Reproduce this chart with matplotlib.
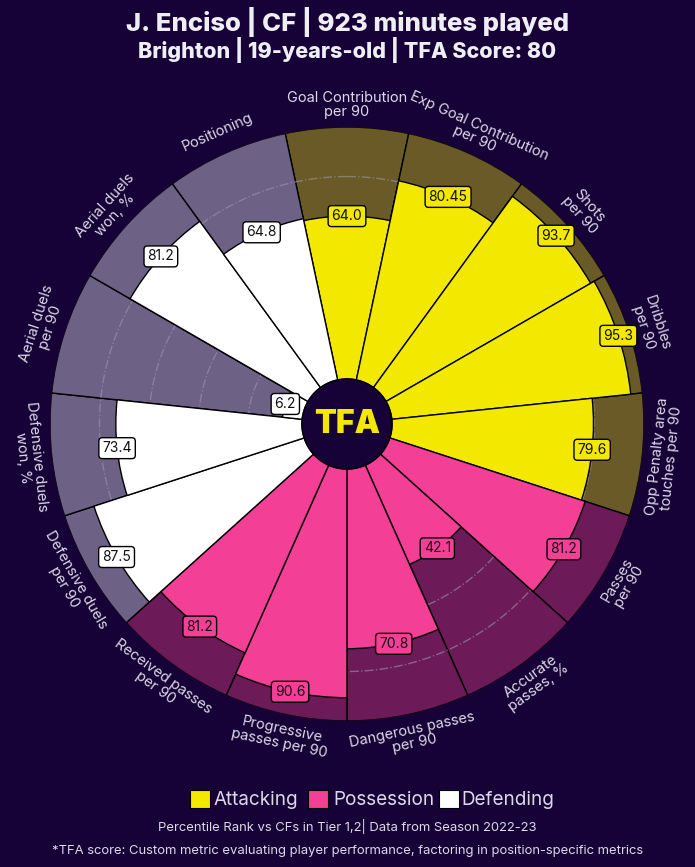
import numpy as np
import matplotlib
matplotlib.use("Agg")
import matplotlib.pyplot as plt
from matplotlib.patches import Rectangle

plt.rcParams['font.family'] = ['Inter', 'DejaVu Sans']

# ---- data ----
params = [
    "Goal Contribution\nper 90", "Exp Goal Contribution\nper 90", "Shots\nper 90",
    "Dribbles\nper 90", "Opp Penalty area\ntouches per 90", "Passes\nper 90",
    "Accurate\npasses, %", "Dangerous passes\nper 90", "Progressive\npasses per 90",
    "Received passes\nper 90", "Defensive duels\nper 90", "Defensive duels\nwon, %",
    "Aerial duels\nper 90", "Aerial duels\nwon, %", "Positioning",
]
values = [64.0, 80.45, 93.7, 95.3, 79.6, 81.2, 42.1, 70.8, 90.6, 81.2,
          87.5, 73.4, 6.2, 81.2, 64.8]
value_labels = ["64.0", "80.45", "93.7", "95.3", "79.6", "81.2", "42.1", "70.8",
                "90.6", "81.2", "87.5", "73.4", "6.2", "81.2", "64.8"]
groups = ["Attacking"] * 5 + ["Possession"] * 5 + ["Defending"] * 5

BG = "#170238"
TEXT = "#dcd8e8"
slice_colors = {"Attacking": "#f3e800", "Possession": "#f43f97", "Defending": "#ffffff"}
bck_colors = {"Attacking": "#6a5a28", "Possession": "#6d1a58", "Defending": "#6d6186"}

INNER = 20      # hole offset in value units
TOP = 100 + INNER

fig = plt.figure(figsize=(6.95, 8.67), dpi=100, facecolor=BG)
ax = fig.add_axes([0.0719, 0.1684, 0.8547, 0.6851], projection="polar")
ax.set_theta_zero_location("N")
ax.set_theta_direction(-1)
ax.axis("off")
ax.set_ylim(0, TOP)

n = len(params)
width = 2 * np.pi / n
theta = np.arange(n) * width

# background slices
ax.bar(theta, [TOP] * n, width=width, bottom=0,
       color=[bck_colors[g] for g in groups], edgecolor="black", linewidth=1, zorder=1)

# dashed circles at 20/40/60/80
tt = np.linspace(0, 2 * np.pi, 400)
for lvl in [20, 40, 60, 80]:
    ax.plot(tt, [lvl + INNER] * len(tt), color="#9a98aa", ls="-.", lw=1, alpha=0.6, zorder=2)

# value slices
ax.bar(theta, [v + INNER for v in values], width=width, bottom=0,
       color=[slice_colors[g] for g in groups], edgecolor="black", linewidth=1, zorder=3)

# value boxes
for th, v, lab, g in zip(theta, values, value_labels, groups):
    ax.text(th, v + INNER, lab, ha="center", va="center", fontsize=10, color="#111111",
            zorder=6,
            bbox=dict(boxstyle="round,pad=0.25", facecolor=slice_colors[g],
                      edgecolor="black", linewidth=1))

# parameter labels
for th, p in zip(theta, params):
    rot = -np.degrees(th)
    rot = (rot + 180) % 360 - 180
    if abs(rot) > 90:
        rot = (rot + 180 + 180) % 360 - 180
    ax.text(th, TOP + 9, p, ha="center", va="center", rotation=rot,
            rotation_mode="anchor", fontsize=10.5, color=TEXT, linespacing=1.0)

# centre circle + logo
ax.fill(tt, [18.2] * len(tt), color=BG, zorder=7)
ax.plot(tt, [18.2] * len(tt), color="black", lw=1, zorder=7)
ax.text(0, 0, "TFA", ha="center", va="center", fontsize=23, fontweight="black",
        color="#f3e800", zorder=8)

# titles
fig.text(0.5, 1 - 22 / 867, "J. Enciso | CF | 923 minutes played", ha="center", va="center",
         fontsize=18.5, fontweight="heavy", color="#f0eef5")
fig.text(0.5, 1 - 50 / 867, "Brighton | 19-years-old | TFA Score: 80", ha="center",
         va="center", fontsize=15.5, fontweight="heavy", color="#f0eef5")

# legend
legend_items = [("Attacking", 190, 214), ("Possession", 308, 333), ("Defending", 439, 461)]
for name, sx, tx in legend_items:
    fig.add_artist(Rectangle((sx / 695, 1 - 808 / 867), 20 / 695, 18 / 867,
                             transform=fig.transFigure, facecolor=slice_colors[name],
                             edgecolor="black", linewidth=0.8))
    fig.text(tx / 695, 1 - 800 / 867, name, ha="left", va="center", fontsize=13.6, color=TEXT)

fig.text(0.5, 1 - 827 / 867, "Percentile Rank vs CFs in Tier 1,2| Data from Season 2022-23",
         ha="center", va="center", fontsize=9.4, color=TEXT)
fig.text(0.5, 1 - 851 / 867,
         "*TFA score: Custom metric evaluating player performance, factoring in position-specific metrics",
         ha="center", va="center", fontsize=9.4, color=TEXT)

fig.savefig("out.png", dpi=100, facecolor=BG)
